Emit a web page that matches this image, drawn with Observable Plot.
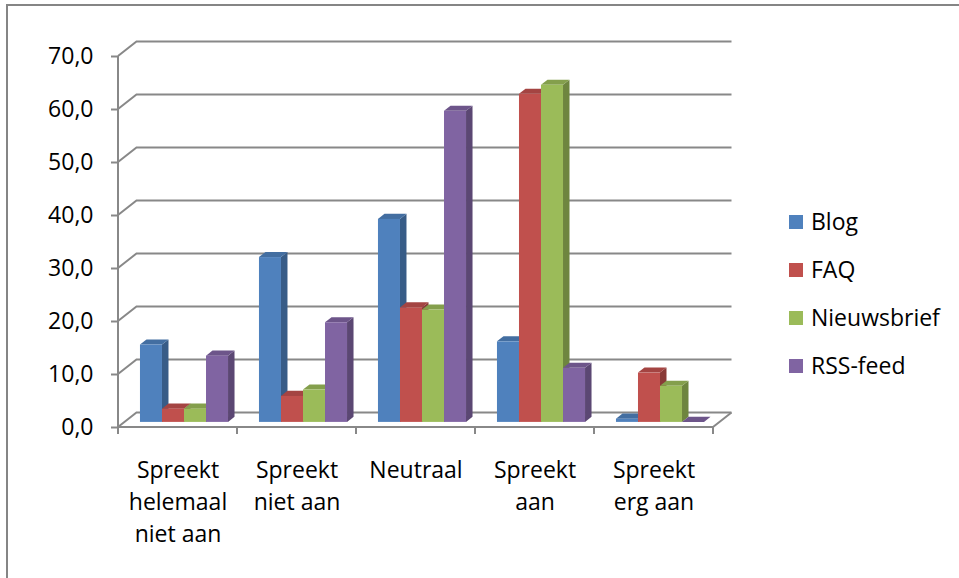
<!DOCTYPE html>
<html><head><meta charset="utf-8">
<script src="https://cdn.jsdelivr.net/npm/d3@7"></script>
<script src="https://cdn.jsdelivr.net/npm/@observablehq/plot@0.6"></script>
<style>html,body{margin:0;padding:0;background:#fff;}</style>
</head><body><div id="chart"></div>
<script>
// ---- data ----
const categories = ["Spreekt helemaal niet aan", "Spreekt niet aan", "Neutraal", "Spreekt aan", "Spreekt erg aan"];
const categoryLabels = ["Spreekt\nhelemaal\nniet aan", "Spreekt\nniet aan", "Neutraal", "Spreekt\naan", "Spreekt\nerg aan"];
const series = ["Blog", "FAQ", "Nieuwsbrief", "RSS-feed"];
const blog = [14.6, 31.1, 38.3, 15.2, 0.6];
const faq = [2.5, 4.9, 21.6, 61.9, 9.3];
const nieuwsbrief = [2.5, 6.1, 21.2, 63.6, 6.8];
const rssFeed = [12.5, 18.8, 58.7, 10.2, 0.0];
const yTicks = [0, 10, 20, 30, 40, 50, 60, 70];
const colors = ["#4F81BD", "#C0504D", "#9BBB59", "#8064A2"];

// ---- layout / style ----
const W = 959, H = 578;
const M = {left: 118, right: 246, top: 56, bottom: 151};
const FONT = "'Open Sans', 'Noto Sans', sans-serif";
const GRID = "#888888";
const WALL_DX = 18.5, WALL_DY = -14.5;     // depth of the chart box
const PLANE_DX = 6.5, PLANE_DY = -5.1;     // front plane of the bars
const BAR_DX = 6.5, BAR_DY = -5.1;         // depth of each bar
const BW = (W - M.left - M.right) / categories.length;
const BAR_W = BW * 0.185;
const barOffset = i => (BW - series.length * BAR_W) / 2 + i * BAR_W;

const valuesBySeries = [blog, faq, nieuwsbrief, rssFeed];
const rows = series.flatMap((s, i) => categories.map((c, k) => ({series: s, category: c, value: valuesBySeries[i][k]})));

const fmt = d => d.toFixed(1).replace(".", ",");

// walls, floor, axis lines
const walls = (index, scales, values, dims) => {
  const x = scales.x, y = scales.y;
  const left = dims.marginLeft, right = dims.width - dims.marginRight;
  const g = d3.create("svg:g").attr("fill", "none").attr("stroke", GRID).attr("stroke-width", 2);
  g.append("rect").attr("x", 7).attr("y", 5).attr("width", 2000).attr("height", 2000).attr("stroke", "#858585");
  for (const t of yTicks) {
    g.append("path").attr("d", `M${left},${y(t)}L${left + WALL_DX},${y(t) + WALL_DY}L${right + WALL_DX},${y(t) + WALL_DY}`);
  }
  g.append("path").attr("d", `M${left},${y(0)}L${right},${y(0)}L${right + WALL_DX},${y(0) + WALL_DY}`);
  g.append("path").attr("d", `M${left},${y(yTicks[yTicks.length - 1])}V${y(0)}`);
  const bounds = categories.map(c => x(c)).concat([x(categories[categories.length - 1]) + x.bandwidth()]);
  for (const b of bounds) g.append("path").attr("d", `M${b},${y(0)}V${y(0) + 7}`);
  return g.node();
};

// top and side faces of the bars of one series
const faces = i => (index, scales, values, dims) => {
  const x = scales.x, y = scales.y;
  const bw = x.bandwidth();
  const w = bw * 0.185;
  const off = (bw - series.length * w) / 2 + i * w;
  const base = d3.color(colors[i]);
  const topC = base.darker(0.45).formatHex(), sideC = base.darker(0.95).formatHex();
  const g = d3.create("svg:g");
  categories.forEach((c, k) => {
    const v = valuesBySeries[i][k];
    const x0 = x(c) + off + PLANE_DX, x1 = x0 + w;
    const yt = y(v) + PLANE_DY, yb = y(0) + PLANE_DY;
    g.append("path").attr("fill", sideC)
      .attr("d", `M${x1},${yt}L${x1 + BAR_DX},${yt + BAR_DY}L${x1 + BAR_DX},${yb + BAR_DY}L${x1},${yb}Z`);
    g.append("path").attr("fill", topC)
      .attr("d", `M${x0},${yt}L${x1},${yt}L${x1 + BAR_DX},${yt + BAR_DY}L${x0 + BAR_DX},${yt + BAR_DY}Z`);
  });
  return g.node();
};

// legend
const legend = () => {
  const g = d3.create("svg:g").attr("font-family", FONT).attr("font-size", 23).attr("text-anchor", "start");
  series.forEach((s, i) => {
    const cy = 222 + i * 48;
    g.append("rect").attr("x", 789).attr("y", cy - 7).attr("width", 14).attr("height", 14).attr("fill", colors[i]);
    g.append("text").attr("x", 811).attr("y", cy + 8).attr("fill", "#000").text(s);
  });
  return g.node();
};

const marks = [
  walls,
  Plot.axisY(yTicks, {tickSize: 7, tickPadding: 18, tickFormat: fmt, fontSize: 23, stroke: GRID, strokeWidth: 2, label: null}),
  Plot.axisX({tickSize: 0, tickPadding: 28, fontSize: 23, lineHeight: 1.39, label: null,
    tickFormat: c => categoryLabels[categories.indexOf(c)]})
];
series.forEach((s, i) => {
  marks.push(faces(i));
  marks.push(Plot.barY(rows.filter(r => r.series === s), {
    x: "category", y: "value", fill: colors[i],
    insetLeft: barOffset(i), insetRight: BW - barOffset(i) - BAR_W,
    dx: PLANE_DX, dy: PLANE_DY
  }));
});
marks.push(legend);

const chart = Plot.plot({
  width: W, height: H,
  marginLeft: M.left, marginRight: M.right, marginTop: M.top, marginBottom: M.bottom,
  x: {type: "band", domain: categories, padding: 0},
  y: {domain: [0, 70]},
  style: {fontFamily: FONT, fontSize: "23px", color: "#000", background: "#fff", overflow: "visible"},
  marks
});
document.getElementById("chart").appendChild(chart);
</script>
</body></html>
